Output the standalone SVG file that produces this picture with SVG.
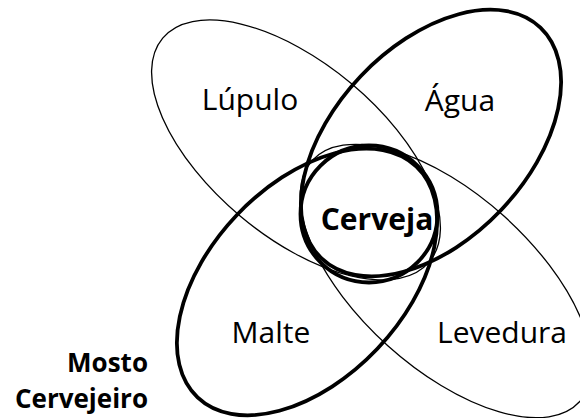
<svg xmlns="http://www.w3.org/2000/svg" width="580" height="418" viewBox="0 0 580 418">
<style>
.shape{fill:none;stroke:#000}
.thin{stroke-width:1.3}
.thick{stroke-width:3.8}
.lbl{font-family:"Open Sans","Noto Sans",sans-serif;font-size:30px;fill:#000;text-anchor:middle}
.bold{font-weight:bold}
.side{font-family:"Open Sans","Noto Sans",sans-serif;font-size:26px;font-weight:bold;fill:#000;text-anchor:end}
</style>
<rect width="580" height="418" fill="#fff"/>
<g id="lupulo">
<ellipse class="shape thin" cx="296" cy="150" rx="174" ry="86.5" transform="rotate(40 296 150)"/>
<text class="lbl" x="250" y="110">Lúpulo</text>
</g>
<g id="levedura">
<ellipse class="shape thin" cx="446" cy="281" rx="180" ry="87" transform="rotate(42 446 281)"/>
<text class="lbl" x="502" y="343">Levedura</text>
</g>
<g id="agua">
<ellipse class="shape thick" cx="431" cy="143" rx="159" ry="97" transform="rotate(-46.5 431 143)"/>
<text class="lbl" x="460" y="111">Água</text>
</g>
<g id="malte">
<ellipse class="shape thick" cx="307" cy="282" rx="159" ry="97" transform="rotate(-46.5 307 282)"/>
<text class="lbl" x="271" y="343">Malte</text>
</g>
<g id="cerveja">
<circle class="shape thick" cx="369" cy="214" r="68.5"/>
<text class="lbl bold" x="377" y="230">Cerveja</text>
</g>
<g id="mosto">
<text class="side" x="148" y="372">Mosto</text>
<text class="side" x="148" y="408">Cervejeiro</text>
</g>
<g id="connectors"/>
</svg>
